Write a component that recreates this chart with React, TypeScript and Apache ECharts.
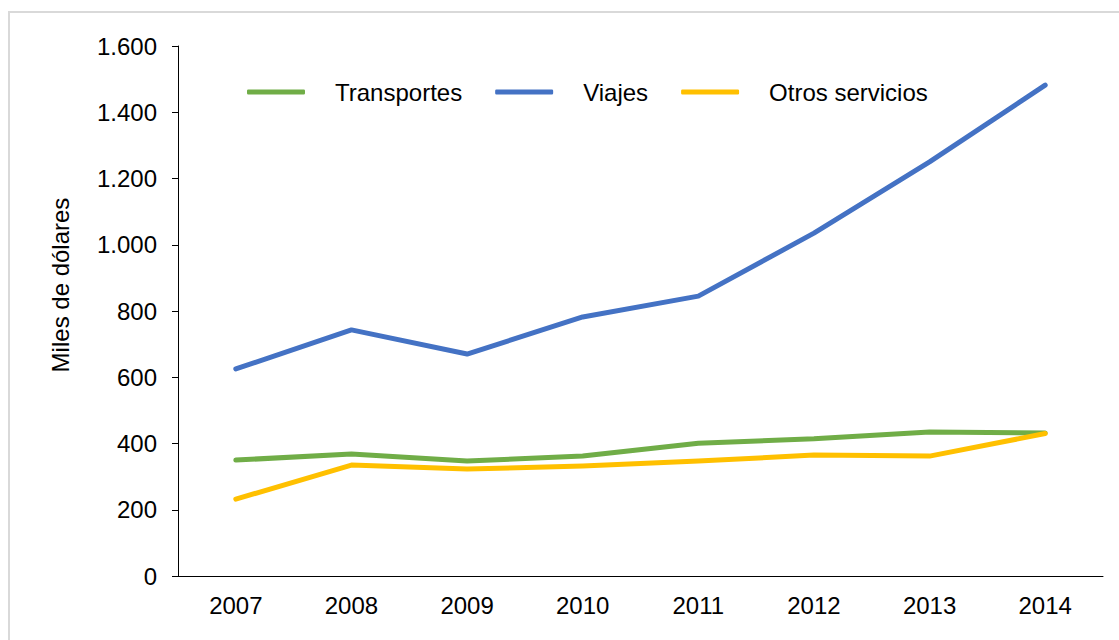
import React, { useEffect, useRef } from "react";
import * as echarts from "echarts";

const years = ["2007", "2008", "2009", "2010", "2011", "2012", "2013", "2014"];
const transportes = [350, 368, 347, 362, 401, 414, 435, 432];
const viajes = [625, 743, 670, 782, 845, 1035, 1250, 1482];
const otros = [232, 335, 323, 332, 347, 365, 362, 430];
const yTicks = [0, 200, 400, 600, 800, 1000, 1200, 1400, 1600];

const fmt = (v: number) => String(v).replace(/\B(?=(\d{3})+(?!\d))/g, ".");

export default function App() {
  const ref = useRef<HTMLDivElement>(null);
  useEffect(() => {
    document.body.style.margin = "0";
    const chart = echarts.init(ref.current!, null, { renderer: "svg" });
    const font = "'Liberation Sans', Arial, sans-serif";
    const line = (name: string, data: number[], color: string) => ({
      name,
      type: "line",
      data,
      symbol: "none",
      lineStyle: { color, width: 5, cap: "round", join: "round" },
      itemStyle: { color },
    });
    chart.setOption({
      animation: false,
      backgroundColor: "#ffffff",
      textStyle: { fontFamily: font },
      graphic: [
        {
          type: "rect",
          shape: { x: 9, y: 12, width: 1200, height: 700 },
          style: { fill: "none", stroke: "#d9d9d9", lineWidth: 2 },
          silent: true,
        },
      ],
      legend: {
        top: 75,
        left: 242,
        itemWidth: 58,
        itemHeight: 5,
        itemGap: 33,
        icon: "roundRect",
        textStyle: { fontSize: 24, color: "#000", fontFamily: font, padding: [0, 0, 0, 25] },
        data: ["Transportes", "Viajes", "Otros servicios"],
      },
      grid: { left: 178, right: 16, top: 46, bottom: 64, containLabel: false },
      xAxis: {
        type: "category",
        data: years,
        boundaryGap: true,
        axisLine: { lineStyle: { color: "#000", width: 1 } },
        axisTick: { alignWithLabel: true, length: 6, lineStyle: { color: "#000" } },
        axisLabel: { fontSize: 24, color: "#000", margin: 17, fontFamily: font },
      },
      yAxis: {
        type: "value",
        min: yTicks[0],
        max: yTicks[yTicks.length - 1],
        interval: 200,
        name: "Miles de dólares",
        nameLocation: "middle",
        nameGap: 106,
        nameTextStyle: { fontSize: 24, color: "#000", fontFamily: font, padding: [0, 0, 0, 52] },
        axisLine: { show: true, lineStyle: { color: "#000", width: 1 } },
        axisTick: { show: true, length: 6, lineStyle: { color: "#000" } },
        splitLine: { show: false },
        axisLabel: {
          fontSize: 24,
          color: "#000",
          margin: 21,
          fontFamily: font,
          formatter: (v: number) => fmt(v),
        },
      },
      series: [
        line("Transportes", transportes, "#70AD47"),
        line("Viajes", viajes, "#4472C4"),
        line("Otros servicios", otros, "#FFC000"),
      ],
    });
    return () => chart.dispose();
  }, []);
  return <div ref={ref} style={{ width: 1119, height: 640 }} />;
}
